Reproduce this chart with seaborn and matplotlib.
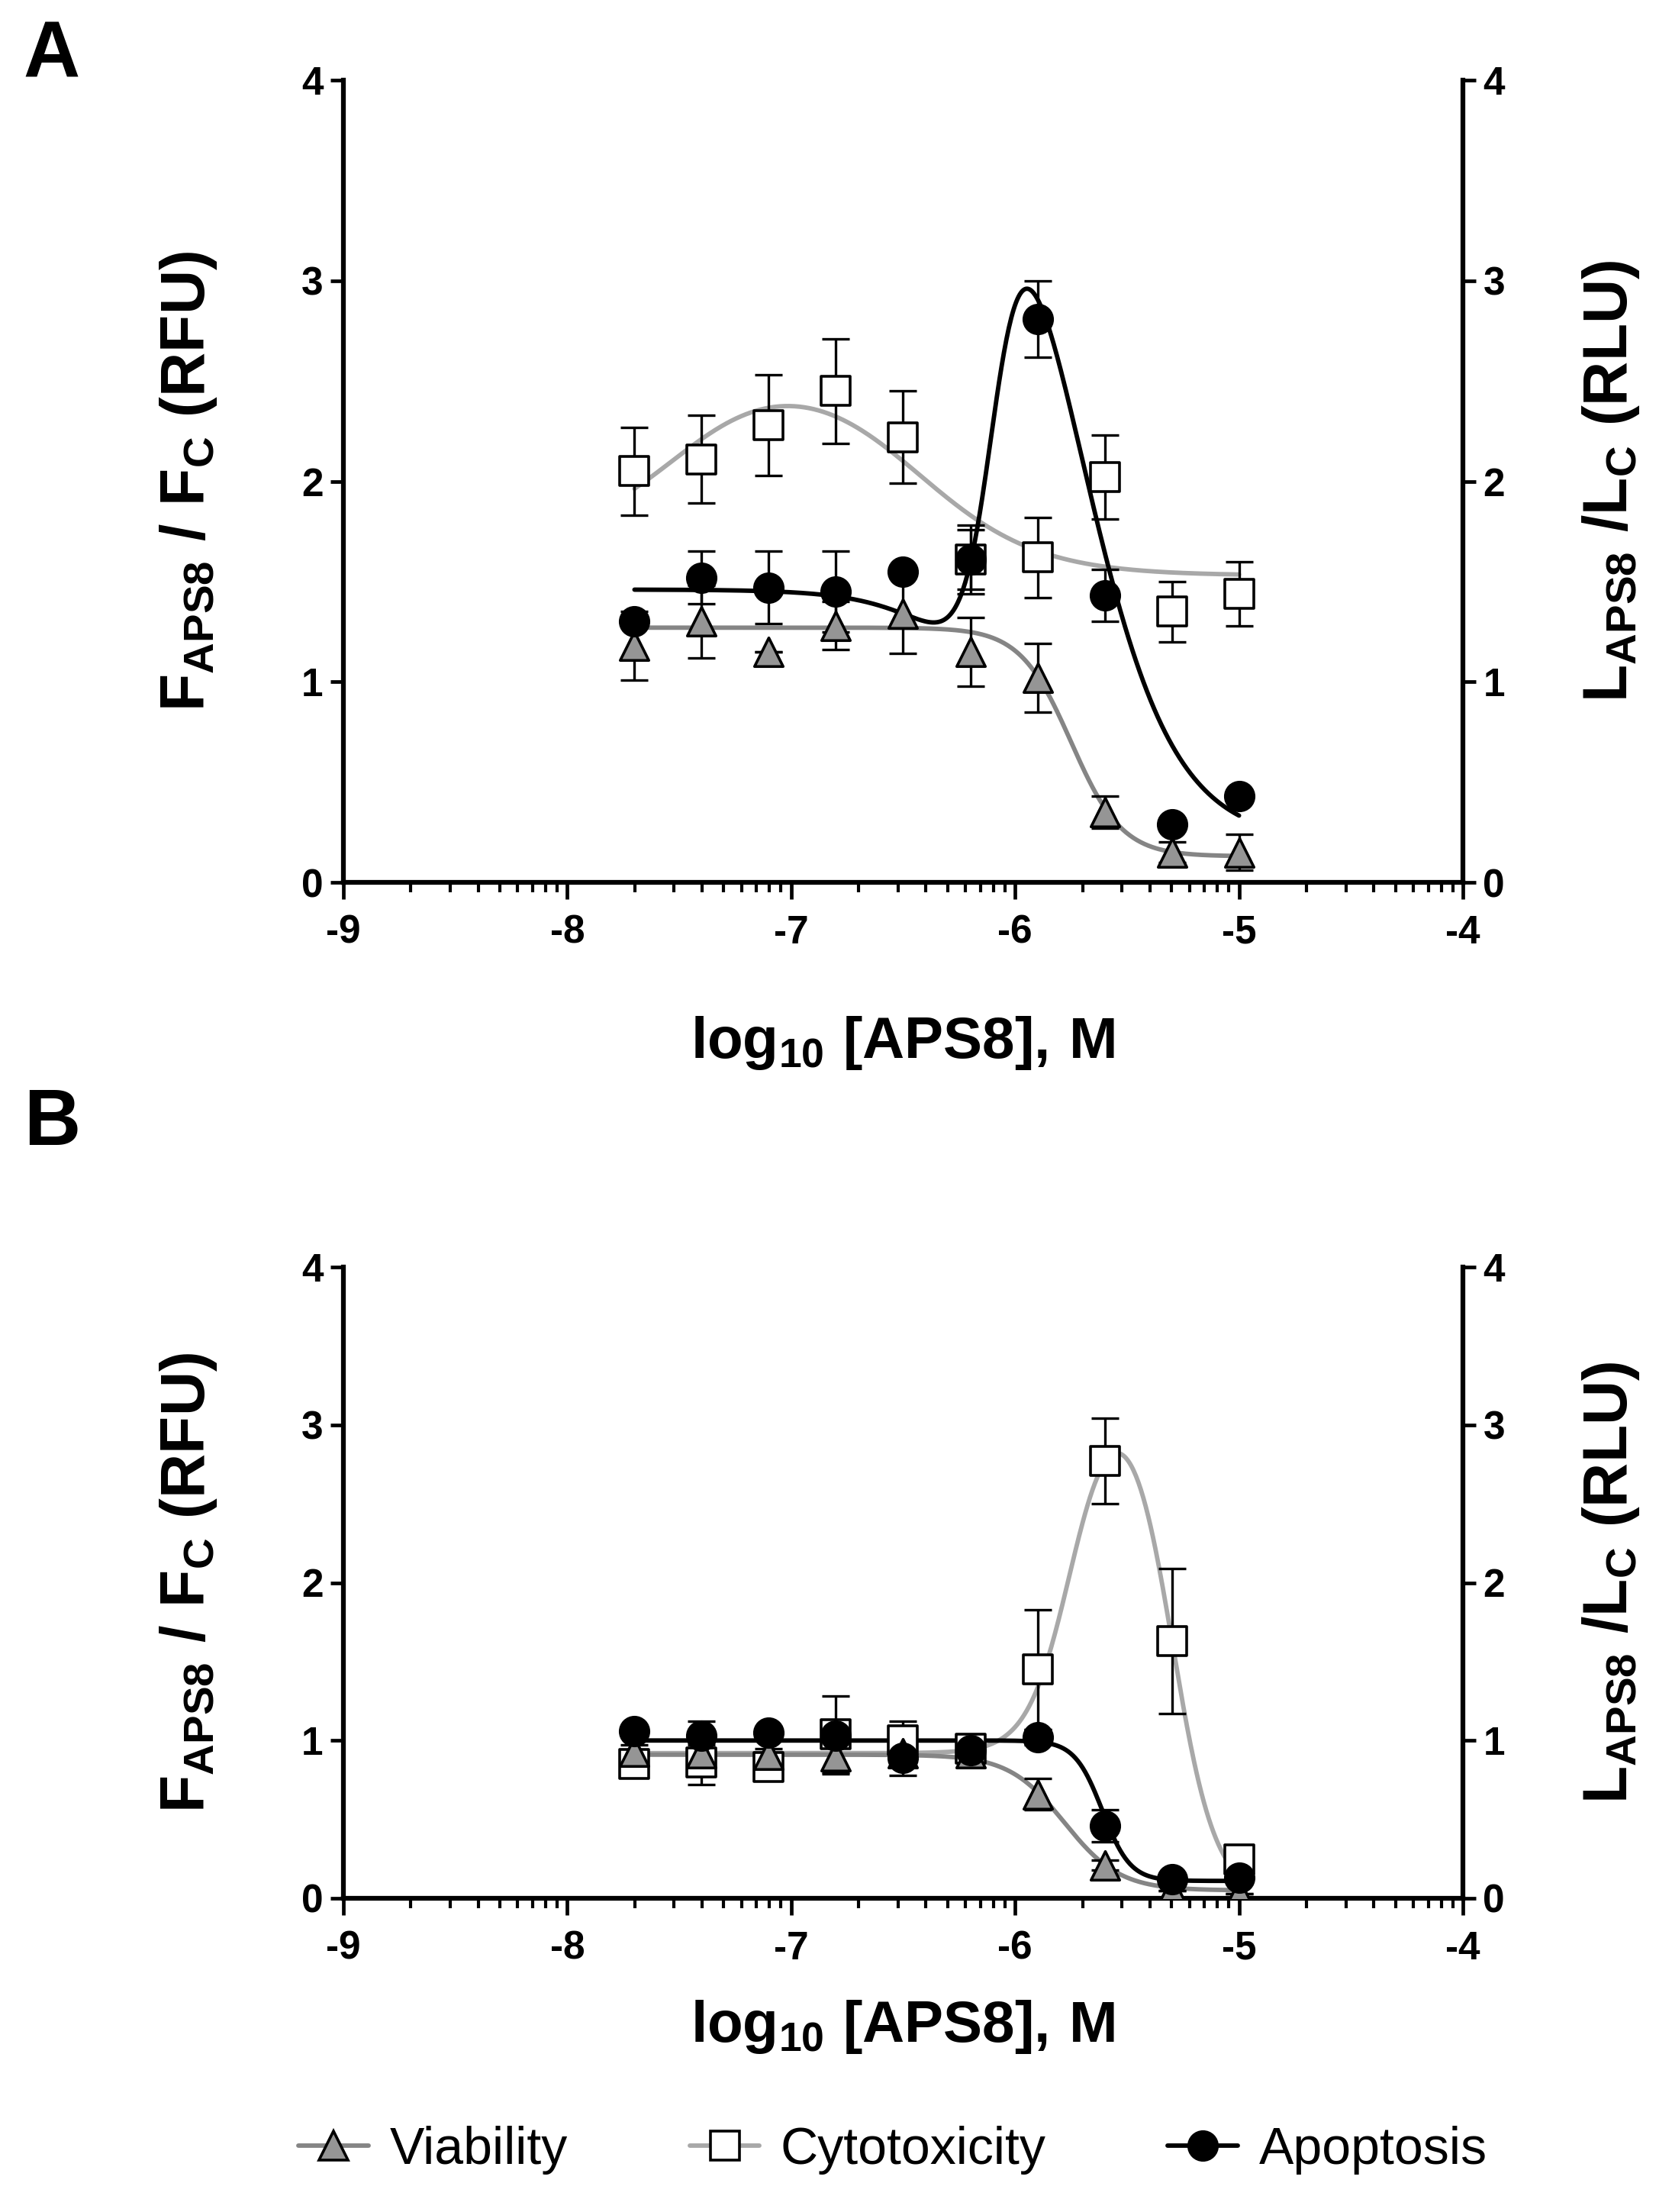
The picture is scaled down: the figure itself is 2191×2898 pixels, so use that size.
import numpy as np
import pandas as pd
import matplotlib
matplotlib.use("Agg")
import matplotlib.pyplot as plt
import seaborn as sns
from matplotlib.lines import Line2D

# concentrations, log10 M
log_conc = [-7.7, -7.4, -7.1, -6.8, -6.5, -6.2, -5.9, -5.6, -5.3, -5.0]

# panel A
via_a = [1.18, 1.30, 1.15, 1.28, 1.34, 1.15, 1.02, 0.35, 0.15, 0.15]
via_a_err = [0.17, 0.18, 0.0, 0.12, 0.20, 0.17, 0.17, 0.08, 0.05, 0.09]
cyt_a = [2.05, 2.11, 2.28, 2.45, 2.22, 1.61, 1.62, 2.02, 1.35, 1.44]
cyt_a_err = [0.22, 0.22, 0.25, 0.26, 0.23, 0.17, 0.20, 0.21, 0.15, 0.16]
apo_a = [1.30, 1.52, 1.47, 1.45, 1.55, 1.61, 2.81, 1.43, 0.29, 0.43]
apo_a_err = [0.0, 0.13, 0.18, 0.20, 0.0, 0.15, 0.19, 0.13, 0.0, 0.0]

# panel B
via_b = [0.93, 0.92, 0.91, 0.90, 0.92, 0.92, 0.66, 0.21, 0.05, 0.03]
via_b_err = [0.04, 0.05, 0.04, 0.11, 0.05, 0.05, 0.10, 0.03, 0.0, 0.0]
cyt_b = [0.85, 0.86, 0.83, 1.04, 1.00, 0.95, 1.45, 2.77, 1.63, 0.245]
cyt_b_err = [0.0, 0.14, 0.0, 0.24, 0.12, 0.06, 0.38, 0.27, 0.46, 0.0]
apo_b = [1.06, 1.03, 1.05, 1.03, 0.89, 0.94, 1.02, 0.46, 0.12, 0.13]
apo_b_err = [0.0, 0.09, 0.0, 0.05, 0.11, 0.06, 0.05, 0.10, 0.0, 0.0]

# fitted curve parameters
# sigmoid: top, bottom, logEC50, hill
via_fit_a = [1.27, 0.13, -5.75, 3.8]
via_fit_b = [0.91, 0.05, -5.78, 3.5]
apo_fit_b = [1.00, 0.11, -5.61, 7.0]
# bell: left, peak, right, logEC50_1, hill_1, logEC50_2, hill_2
cyt_fit_a = [1.70, 2.60, 1.53, -7.50, 1.8, -6.45, 1.6]
apo_fit_a = [1.46, 4.54, 0.20, -6.10, 6.0, -5.75, 2.0]
cyt_fit_b = [0.92, 3.32, 0.00, -5.75, 4.5, -5.30, 4.5]

x_ticks = [-9, -8, -7, -6, -5, -4]
y_ticks = [0, 1, 2, 3, 4]
legend_names = ["Viability", "Cytotoxicity", "Apoptosis"]

VIA_LINE = "#858585"
CYT_LINE = "#a8a8a8"
TRI_FILL = "#959595"


def sigmoid(x, p):
    top, bottom, ec, h = p
    return bottom + (top - bottom) / (1 + 10 ** ((x - ec) * h))


def bell(x, p):
    left, peak, right, ec1, h1, ec2, h2 = p
    s1 = 1 / (1 + 10 ** ((ec1 - x) * h1))
    s2 = 1 / (1 + 10 ** ((ec2 - x) * h2))
    return left + (peak - left) * s1 + (right - peak) * s2


sns.set_style("ticks")
plt.rcParams["font.family"] = ["Liberation Sans", "DejaVu Sans"]
plt.rcParams["font.weight"] = "bold"
plt.rcParams["text.color"] = "black"
plt.rcParams["axes.labelcolor"] = "black"
plt.rcParams["xtick.color"] = "black"
plt.rcParams["ytick.color"] = "black"
plt.rcParams["axes.edgecolor"] = "black"
plt.rcParams["axes.unicode_minus"] = False
plt.rcParams["mathtext.fontset"] = "custom"
plt.rcParams["mathtext.rm"] = "Liberation Sans:bold"
plt.rcParams["mathtext.bf"] = "Liberation Sans:bold"
plt.rcParams["mathtext.it"] = "Liberation Sans:bold"

W, H = 2191, 2898
fig = plt.figure(figsize=(W / 100, H / 100), dpi=100)

ax_a = fig.add_axes([450 / W, 1 - 1156 / H, 1467 / W, 1051 / H])
ax_b = fig.add_axes([450 / W, 1 - 2487 / H, 1467 / W, 827 / H])

xs = np.linspace(log_conc[0], log_conc[-1], 500)


def draw_panel(ax, via, via_err, cyt, cyt_err, apo, apo_err, curves, xlab_y):
    via_curve, cyt_curve, apo_curve = curves
    sns.lineplot(x=xs, y=cyt_curve, ax=ax, color=CYT_LINE, lw=4.2, zorder=2)
    sns.lineplot(x=xs, y=via_curve, ax=ax, color=VIA_LINE, lw=4.2, zorder=2.1)
    sns.lineplot(x=xs, y=apo_curve, ax=ax, color="black", lw=4.2, zorder=2.2)

    for vals, errs in [(cyt, cyt_err), (via, via_err), (apo, apo_err)]:
        ax.errorbar(log_conc, vals, yerr=errs, fmt="none", ecolor="black",
                    elinewidth=2.4, capsize=13, capthick=2.4, zorder=2.5)

    sns.scatterplot(x=log_conc, y=cyt, ax=ax, marker="s", s=28 ** 2,
                    color="white", edgecolor="black", linewidth=2.6, zorder=3)
    sns.scatterplot(x=log_conc, y=via, ax=ax, marker="^", s=27 ** 2,
                    color=TRI_FILL, edgecolor="black", linewidth=2.6, zorder=4)
    sns.scatterplot(x=log_conc, y=apo, ax=ax, marker="o", s=27 ** 2,
                    color="black", edgecolor="black", linewidth=2.6, zorder=5)

    ax.set_xlim(-9, -4)
    ax.set_ylim(0, 4)
    ax.set_xticks(x_ticks)
    ax.set_xticklabels([str(t) for t in x_ticks])
    minor = [d + np.log10(k) for d in x_ticks[:-1] for k in range(2, 10)]
    ax.set_xticks(minor, minor=True)
    ax.set_yticks(y_ticks)
    ax.set_yticklabels([str(t) for t in y_ticks])

    for side in ["left", "bottom"]:
        ax.spines[side].set_linewidth(4.5)
    ax.spines["top"].set_visible(False)
    ax.spines["right"].set_visible(False)

    ax.tick_params(axis="x", which="major", direction="out", length=16,
                   width=3.4, labelsize=37, pad=14)
    ax.tick_params(axis="x", which="minor", direction="out", length=9,
                   width=3.0)
    ax.tick_params(axis="y", which="major", direction="out", length=12,
                   width=3.4, labelsize=37, pad=7)

    ax.set_xlabel(r"$\mathbf{log_{10}\ [APS8],\,M}$", fontsize=55)
    ax.xaxis.set_label_coords(0.5, xlab_y)
    ax.xaxis.label.set_verticalalignment("top")
    ax.set_ylabel(r"$\mathbf{F_{APS8}\ /\ F_{C}\ (RFU)}$", fontsize=58)
    ax.yaxis.set_label_coords((287 - 450) / 1467, 0.5)

    twin = ax.twinx()
    twin.set_ylim(0, 4)
    twin.set_yticks(y_ticks)
    twin.set_yticklabels([str(t) for t in y_ticks])
    for side in ["left", "bottom", "top"]:
        twin.spines[side].set_visible(False)
    twin.spines["right"].set_linewidth(4.5)
    twin.tick_params(axis="y", which="major", direction="out", length=12,
                     width=3.4, labelsize=37, pad=7)
    twin.set_ylabel(r"$\mathbf{L_{APS8}\ /L_{C}\ (RLU)}$", fontsize=58)
    twin.yaxis.set_label_coords((2071 - 450) / 1467, 0.5)
    for lab in ax.get_xticklabels() + ax.get_yticklabels() + twin.get_yticklabels():
        lab.set_fontweight("bold")


draw_panel(ax_a, via_a, via_a_err, cyt_a, cyt_a_err, apo_a, apo_a_err,
           (sigmoid(xs, via_fit_a), bell(xs, cyt_fit_a), bell(xs, apo_fit_a)),
           -0.165)
draw_panel(ax_b, via_b, via_b_err, cyt_b, cyt_b_err, apo_b, apo_b_err,
           (sigmoid(xs, via_fit_b), bell(xs, cyt_fit_b), sigmoid(xs, apo_fit_b)),
           -0.158)

fig.text(68 / W, 1 - 74 / H, "A", fontsize=74, fontweight="bold",
         ha="center", va="center")
fig.text(68 / W, 1 - 1474 / H, "B", fontsize=74, fontweight="bold",
         ha="center", va="center")

handles = [
    Line2D([], [], color=VIA_LINE, lw=4.2, marker="^", markersize=27,
           markerfacecolor=TRI_FILL, markeredgecolor="black", markeredgewidth=2.6),
    Line2D([], [], color=CYT_LINE, lw=4.2, marker="s", markersize=27,
           markerfacecolor="white", markeredgecolor="black", markeredgewidth=2.6),
    Line2D([], [], color="black", lw=4.2, marker="o", markersize=27,
           markerfacecolor="black", markeredgecolor="black", markeredgewidth=2.6),
]
fig.legend(handles, legend_names, loc="center", ncol=3,
           bbox_to_anchor=(1170 / W, 1 - 2817 / H), frameon=False,
           prop={"size": 49, "weight": "normal"}, handlelength=1.35,
           handletextpad=0.4, columnspacing=2.35)

fig.savefig("out.png", dpi=100)
